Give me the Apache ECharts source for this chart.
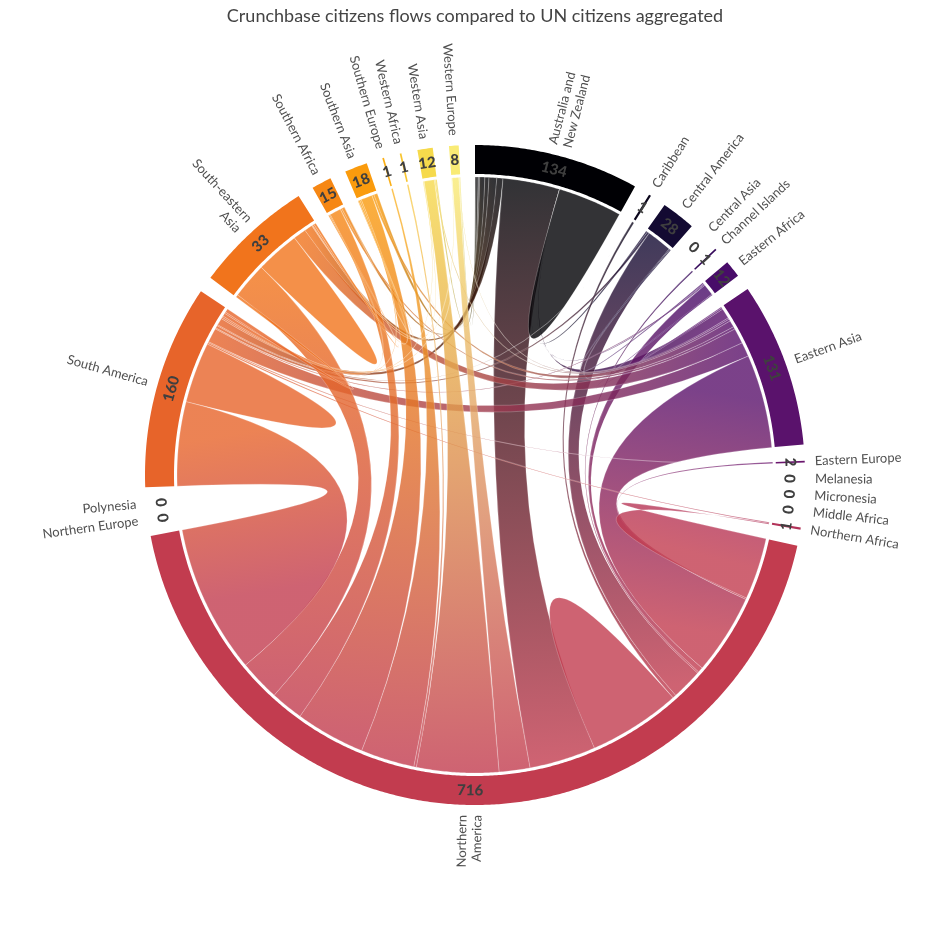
<!DOCTYPE html>
<html>
<head>
<meta charset="utf-8">
<script src="https://cdn.jsdelivr.net/npm/echarts@6/dist/echarts.min.js"></script>
<style>html,body{margin:0;padding:0;background:#fff}#chart{width:950px;height:950px}</style>
</head>
<body>
<div id="chart"></div>
<script>
// ---- data ----
const groupNames = ['Australia and New Zealand','Caribbean','Central America','Central Asia','Channel Islands','Eastern Africa','Eastern Asia','Eastern Europe','Melanesia','Micronesia','Middle Africa','Northern Africa','Northern America','Northern Europe','Polynesia','South America','South-eastern Asia','Southern Africa','Southern Asia','Southern Europe','Western Africa','Western Asia','Western Europe'];
const groupLabels = ['Australia and\nNew Zealand','Caribbean','Central America','Central Asia','Channel Islands','Eastern Africa','Eastern Asia','Eastern Europe','Melanesia','Micronesia','Middle Africa','Northern Africa','Northern\nAmerica','Northern Europe','Polynesia','South America','South-eastern\nAsia','Southern Africa','Southern Asia','Southern Europe','Western Africa','Western Asia','Western Europe'];
const unCitizens = [134, 1, 28, 0, 1, 12, 131, 2, 0, 0, 0, 1, 716, 0, 0, 160, 33, 15, 18, 1, 1, 12, 8];
// flows of each region, clockwise along its arc: [other region index, flow]
const flowsByRegion = [
  [[22,2],[21,4],[20,1],[19,2],[18,10],[17,8],[16,15],[15,12],[12,111],[6,0],[5,0],[2,0],[0,125]],
  [[15,0],[12,4]],
  [[0,3],[15,4],[12,49],[6,2],[5,2]],
  [],
  [[12,3]],
  [[2,2],[0,2],[15,2],[12,22],[6,2]],
  [[5,2],[2,3],[0,20],[22,3],[21,4],[18,13],[17,5],[16,30],[15,28],[12,182]],
  [[15,0],[12,3]],
  [],
  [],
  [],
  [[15,2],[12,2]],
  [[11,120],[7,3],[6,157],[5,10],[4,3],[2,60],[1,7],[12,180],[0,130],[22,60],[21,160],[20,5],[19,105],[18,136],[17,64],[16,80],[15,290]],
  [],
  [],
  [[12,164],[15,118],[11,3],[7,2],[6,28],[5,2],[2,5],[1,2],[0,14],[22,3],[21,3],[18,6],[17,3],[16,7]],
  [[15,5],[12,70],[16,85],[6,25],[0,16],[22,1],[21,1],[18,3],[17,4]],
  [[16,2],[15,2],[12,22],[6,3],[0,6],[18,0]],
  [[17,1],[16,3],[15,3],[12,22],[6,4],[0,7]],
  [[12,3],[0,0]],
  [[12,3],[0,0]],
  [[16,1],[15,1],[12,20],[6,2],[0,3]],
  [[16,0],[15,1],[12,13],[6,1],[0,2]]
];

// ---- palette (inferno) ----
const infernoStops = ['#000004','#160b39','#420a68','#6a176e','#932667','#bc3754','#dd513a','#f37819','#fca50a','#f6d746','#fcffa4'];
function hex2rgb(h){return [parseInt(h.substr(1,2),16),parseInt(h.substr(3,2),16),parseInt(h.substr(5,2),16)];}
function inferno(t){
  t = Math.max(0, Math.min(1, t)) * 10;
  const i = Math.min(9, Math.floor(t)); const f = t - i;
  const a = hex2rgb(infernoStops[i]), b = hex2rgb(infernoStops[i+1]);
  return 'rgb(' + a.map((v,k)=>Math.round(v + (b[k]-v)*f)).join(',') + ')';
}
const n = groupNames.length;
const colors = groupNames.map((_, i) => inferno(i / (n - 1) * 0.95));

// ---- chord layout (angles in degrees, clockwise from top) ----
const padDeg = 2.83;
const totals = flowsByRegion.map(r => r.reduce((s, e) => s + e[1], 0));
const grand = totals.reduce((a, b) => a + b, 0);
const k = (360 - n * padDeg) / grand;
const groupArcs = [];
const subArcs = {};
let cur = 0;
for (let i = 0; i < n; i++) {
  const a0 = cur;
  for (const [j, v] of flowsByRegion[i]) { subArcs[i + '_' + j] = [cur, cur + v * k, v]; cur += v * k; }
  groupArcs.push([a0, cur]);
  cur += padDeg;
}
const chords = [];
for (let i = 0; i < n; i++) {
  for (const [j] of flowsByRegion[i]) {
    if (j < i) continue;
    const s = subArcs[i + '_' + j], t = subArcs[j + '_' + i];
    if (!s || !t || (s[2] === 0 && t[2] === 0)) continue;
    chords.push({ i, j, s, t });
  }
}

const R_RIB = 298, R_IN = 301, R_OUT = 330, R_NUM = 315.5, R_LAB = 340;

function renderItem(params, api) {
  const P = (r, a) => api.coord([r, a]);
  const C = P(0, 0);
  const f = v => v.toFixed(2);
  function arcPts(r, a0, a1) {
    const steps = Math.max(1, Math.ceil(Math.abs(a1 - a0) / 0.4));
    const out = [];
    for (let s = 0; s <= steps; s++) out.push(P(r, a0 + (a1 - a0) * s / steps));
    return out;
  }
  const children = [];
  // ribbons
  for (const ch of chords) {
    const self = ch.i === ch.j;
    const sp = arcPts(R_RIB, ch.s[0], ch.s[1]);
    let d = 'M' + f(sp[0][0]) + ' ' + f(sp[0][1]);
    for (let q = 1; q < sp.length; q++) d += 'L' + f(sp[q][0]) + ' ' + f(sp[q][1]);
    if (!self) {
      const tp = arcPts(R_RIB, ch.t[0], ch.t[1]);
      d += 'Q' + f(C[0]) + ' ' + f(C[1]) + ' ' + f(tp[0][0]) + ' ' + f(tp[0][1]);
      for (let q = 1; q < tp.length; q++) d += 'L' + f(tp[q][0]) + ' ' + f(tp[q][1]);
    }
    d += 'Q' + f(C[0]) + ' ' + f(C[1]) + ' ' + f(sp[0][0]) + ' ' + f(sp[0][1]) + 'Z';
    let fill;
    if (self) fill = colors[ch.i];
    else {
      const p1 = P(R_RIB, (ch.s[0] + ch.s[1]) / 2), p2 = P(R_RIB, (ch.t[0] + ch.t[1]) / 2);
      fill = new echarts.graphic.LinearGradient(p1[0], p1[1], p2[0], p2[1], [
        { offset: 0, color: colors[ch.i] }, { offset: 1, color: colors[ch.j] }], true);
    }
    children.push({ type: 'path', shape: { pathData: d }, style: { fill: fill, opacity: 0.8, stroke: 'rgba(255,255,255,0.55)', lineWidth: 0.5 } });
  }
  // outer ring
  for (let i = 0; i < n; i++) {
    const [a0, a1] = groupArcs[i];
    if (a1 - a0 <= 0) continue;
    const outer = arcPts(R_OUT, a0, a1), inner = arcPts(R_IN, a1, a0);
    children.push({ type: 'polygon', shape: { points: outer.concat(inner) }, style: { fill: colors[i] } });
  }
  // numbers and names
  for (let i = 0; i < n; i++) {
    const [a0, a1] = groupArcs[i];
    const mid = (a0 + a1) / 2;
    let rot = -mid;
    if (mid > 90 && mid < 270) rot += 180;
    const pn = P(R_NUM, mid);
    children.push({ type: 'text', x: pn[0], y: pn[1], rotation: rot * Math.PI / 180,
      style: { text: String(unCitizens[i]), fill: '#3f3f3f', fontFamily: 'Lato', fontWeight: 900, fontSize: 15, align: 'center', verticalAlign: 'middle' } });
    const pl = P(R_LAB, mid);
    const left = mid < 180;
    const lr = left ? (90 - mid) : (270 - mid);
    children.push({ type: 'text', x: pl[0], y: pl[1], rotation: lr * Math.PI / 180,
      style: { text: groupLabels[i], fill: '#505050', fontFamily: 'Lato', fontSize: 13, lineHeight: 15, align: left ? 'left' : 'right', verticalAlign: 'middle' } });
  }
  return { type: 'group', children };
}

const chart = echarts.init(document.getElementById('chart'), null, { renderer: 'canvas' });
chart.setOption({
  animation: false,
  backgroundColor: '#fff',
  title: { text: 'Crunchbase citizens flows compared to UN citizens aggregated', left: 'center', top: 2,
    textStyle: { fontFamily: 'Lato', fontSize: 18, fontWeight: 'normal', color: '#444' } },
  polar: { center: [475, 475], radius: R_OUT },
  angleAxis: { type: 'value', min: 0, max: 360, startAngle: 90, clockwise: true, show: false },
  radiusAxis: { type: 'value', min: 0, max: R_OUT, show: false },
  series: [{ type: 'custom', coordinateSystem: 'polar', data: [[0, 0]], renderItem: renderItem, clip: false, silent: true }]
});
</script>
</body>
</html>
